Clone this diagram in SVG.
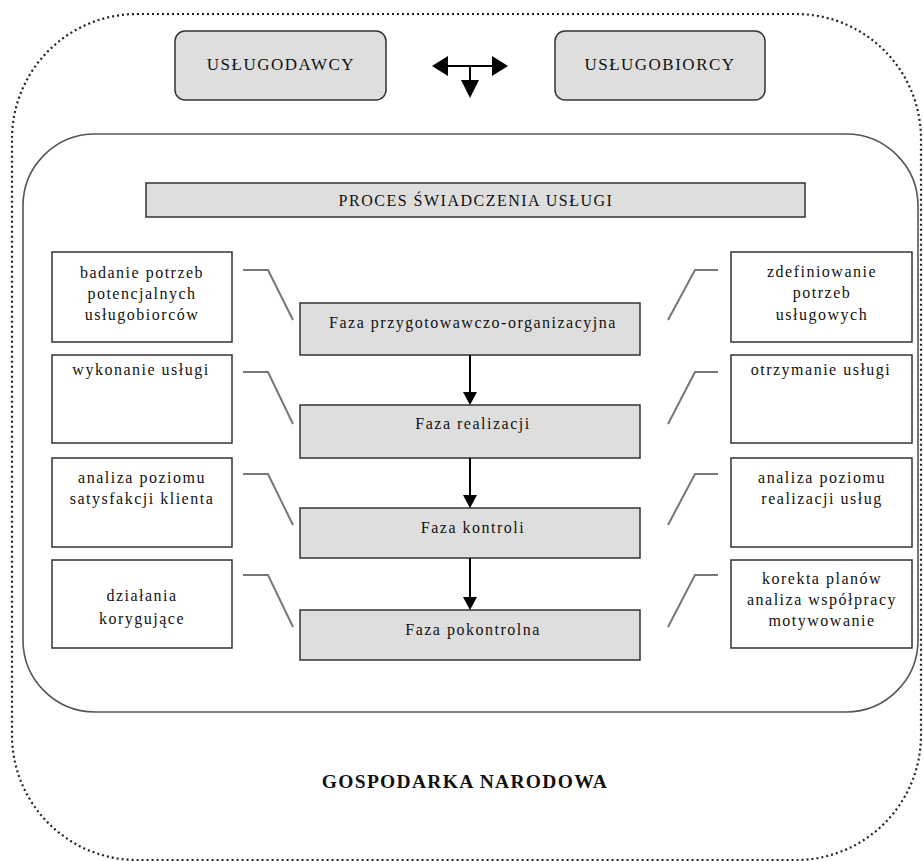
<svg xmlns="http://www.w3.org/2000/svg" width="923" height="861" viewBox="0 0 923 861">
<style>
text{font-family:"Liberation Serif","Times New Roman",serif;font-size:16px;fill:#111;text-anchor:middle;letter-spacing:1.5px}
.cap{font-size:17px}
.title{font-size:19.5px;font-weight:bold;letter-spacing:1.3px}
.gray{fill:#dedede;stroke:#333;stroke-width:1.5}
.white{fill:#fff;stroke:#333;stroke-width:1.5}
.lead{fill:none;stroke:#777;stroke-width:2}
.arr{stroke:#000;stroke-width:2;fill:none}
</style>
<rect id="gospodarka" x="12" y="14" width="909" height="846" rx="125" ry="125" fill="none" stroke="#222" stroke-width="2.2" stroke-dasharray="2 3"/>
<text class="title" x="465" y="788">GOSPODARKA NARODOWA</text>
<rect id="proces-frame" x="23" y="134" width="895" height="578" rx="72" ry="72" fill="none" stroke="#555" stroke-width="1.6"/>
<g id="uslugodawcy"><rect class="gray" x="175" y="31" width="211" height="69" rx="10"/><text class="cap" x="281" y="70">USŁUGODAWCY</text></g>
<g id="uslugobiorcy"><rect class="gray" x="555" y="31" width="210" height="69" rx="10"/><text class="cap" x="660" y="70">USŁUGOBIORCY</text></g>
<g id="proces"><rect class="gray" x="146" y="183" width="659" height="34"/><text x="476" y="206">PROCES ŚWIADCZENIA USŁUGI</text></g>
<g id="faza1"><rect class="gray" x="300" y="303" width="340" height="52"/><text x="473" y="328">Faza przygotowawczo-organizacyjna</text></g>
<g id="faza2"><rect class="gray" x="300" y="405" width="340" height="53"/><text x="473" y="429">Faza realizacji</text></g>
<g id="faza3"><rect class="gray" x="300" y="508" width="340" height="50"/><text x="473" y="533">Faza kontroli</text></g>
<g id="faza4"><rect class="gray" x="300" y="610" width="340" height="50"/><text x="473" y="635">Faza pokontrolna</text></g>
<g id="l1"><rect class="white" x="52" y="252" width="180" height="90"/><text x="142" y="278">badanie potrzeb</text><text x="142" y="299">potencjalnych</text><text x="142" y="320">usługobiorców</text></g>
<g id="l2"><rect class="white" x="52" y="355" width="180" height="88"/><text x="141" y="375">wykonanie usługi</text></g>
<g id="l3"><rect class="white" x="52" y="458" width="180" height="89"/><text x="142" y="483">analiza poziomu</text><text x="142" y="504">satysfakcji klienta</text></g>
<g id="l4"><rect class="white" x="52" y="560" width="180" height="88"/><text x="142" y="601">działania</text><text x="142" y="624">korygujące</text></g>
<g id="r1"><rect class="white" x="731" y="252" width="181" height="90"/><text x="822" y="277">zdefiniowanie</text><text x="822" y="298">potrzeb</text><text x="822" y="320">usługowych</text></g>
<g id="r2"><rect class="white" x="731" y="355" width="181" height="88"/><text x="821" y="375">otrzymanie usługi</text></g>
<g id="r3"><rect class="white" x="731" y="458" width="181" height="89"/><text x="822" y="483">analiza poziomu</text><text x="822" y="504">realizacji usług</text></g>
<g id="r4"><rect class="white" x="731" y="560" width="181" height="88"/><text x="822" y="584">korekta planów</text><text x="822" y="605">analiza współpracy</text><text x="822" y="626">motywowanie</text></g>
<g id="connectors">
<path class="lead" d="M243 270H268L293 320M718 270H695L668 320"/>
<path class="lead" d="M243 372H268L293 424M718 372H695L668 424"/>
<path class="lead" d="M243 474H268L293 525M718 474H695L668 525"/>
<path class="lead" d="M243 575H268L293 627M718 575H695L668 627"/>
<path class="arr" d="M470 355V393M470 458V496M470 558V598"/>
<path d="M463 392H477L470 405Z M463 495H477L470 508Z M463 597H477L470 610Z" fill="#000"/>
<path class="arr" d="M446 66H494M470 66V82" stroke-width="2.5"/>
<path d="M432 66L448 56V76Z M508 66L492 56V76Z M461 80H479L470 98Z" fill="#000"/>
</g>
</svg>
